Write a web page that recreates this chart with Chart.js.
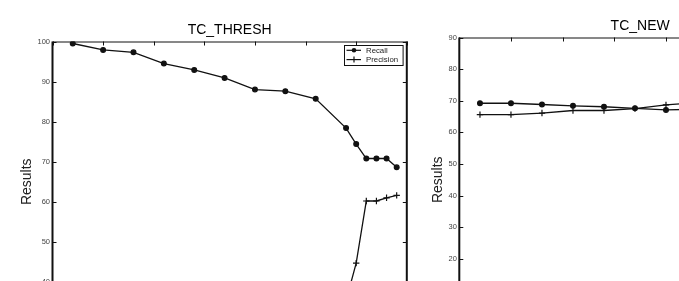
<!DOCTYPE html>
<html>
<head>
<meta charset="utf-8">
<script src="https://cdn.jsdelivr.net/npm/chart.js@4.4.1/dist/chart.umd.min.js"></script>
<style>
  html, body { margin:0; padding:0; background:#fff; width:679px; height:281px; overflow:hidden; }
  #c1 { position:absolute; left:0; top:0; }
  #c2 { position:absolute; left:414px; top:0; }
</style>
</head>
<body>
<canvas id="c1" width="412" height="360"></canvas>
<canvas id="c2" width="416" height="360"></canvas>
<script>
// ---- data ----
const threshX = [0.02, 0.05, 0.08, 0.11, 0.14, 0.17, 0.20, 0.23, 0.26, 0.29, 0.30, 0.31, 0.32, 0.33, 0.34];
const threshRecall = [99.5, 97.9, 97.3, 94.5, 92.9, 90.9, 88.0, 87.6, 85.7, 78.4, 74.4, 70.8, 70.8, 70.8, 68.6];
const threshPrecision = [30.6, 30.9, 31.2, 31.5, 31.9, 32.3, 32.8, 33.4, 34.1, 35.3, 44.7, 60.2, 60.2, 61.0, 61.6];

const newX = [0.02, 0.05, 0.08, 0.11, 0.14, 0.17, 0.20, 0.23];
const newRecall = [69.2, 69.2, 68.8, 68.4, 68.1, 67.6, 67.1, 67.3];
const newPrecision = [65.6, 65.6, 66.1, 66.9, 66.9, 67.5, 68.7, 69.4];

const xTickValues = [0, 0.05, 0.10, 0.15, 0.20, 0.25, 0.30, 0.35];
const yTicksThresh = [30, 40, 50, 60, 70, 80, 90, 100];
const yTicksNew = [0, 10, 20, 30, 40, 50, 60, 70, 80, 90];

const titles = ['TC_THRESH', 'TC_NEW'];
const seriesNames = ['Recall', 'Precision'];
const yAxisName = 'Results';

// ---- drawing helpers ----
const INK = '#111';
const framePlugin = {
  id: 'frame',
  afterDraw(chart, args, opts) {
    const { ctx, chartArea: a, scales: { x, y } } = chart;
    ctx.save();
    ctx.strokeStyle = INK;
    ctx.lineWidth = 1;
    ctx.beginPath();
    opts.xTicks.forEach(v => {
      const px = Math.round(x.getPixelForValue(v)) + 0.5;
      ctx.moveTo(px, a.top); ctx.lineTo(px, a.top + 4);
      ctx.moveTo(px, a.bottom); ctx.lineTo(px, a.bottom - 4);
    });
    opts.yTicks.forEach(v => {
      const py = Math.round(y.getPixelForValue(v)) + 0.5;
      ctx.moveTo(a.left, py); ctx.lineTo(a.left + 4, py);
      ctx.moveTo(a.right, py); ctx.lineTo(a.right - 4, py);
    });
    ctx.stroke();
    // frame
    ctx.beginPath();
    ctx.lineWidth = 1;
    ctx.moveTo(a.left, a.top + 0.5); ctx.lineTo(a.right, a.top + 0.5);
    ctx.moveTo(a.left, a.bottom - 0.5); ctx.lineTo(a.right, a.bottom - 0.5);
    ctx.stroke();
    ctx.beginPath();
    ctx.lineWidth = 2;
    ctx.moveTo(a.left, a.top); ctx.lineTo(a.left, a.bottom);
    ctx.moveTo(a.right, a.top); ctx.lineTo(a.right, a.bottom);
    ctx.stroke();

    // title
    ctx.fillStyle = '#000';
    ctx.font = '14px "Liberation Sans", Arial, sans-serif';
    ctx.textAlign = 'center';
    ctx.textBaseline = 'alphabetic';
    ctx.fillText(opts.title, (a.left + a.right) / 2, a.top - 8);

    // y axis name
    ctx.save();
    ctx.translate(a.left - opts.labelOffset, (a.top + a.bottom) / 2);
    ctx.rotate(-Math.PI / 2);
    ctx.fillStyle = '#222';
    ctx.fillText(yAxisName, 0, 0);
    ctx.restore();

    // legend
    if (opts.legend) {
      const bw = 58.6, bh = 20;
      const bx = a.right - 4.2 - bw, by = a.top + 3.8;
      ctx.fillStyle = '#fff';
      ctx.fillRect(bx, by, bw, bh);
      ctx.lineWidth = 1;
      ctx.strokeStyle = INK;
      ctx.strokeRect(Math.round(bx) + 0.5, Math.round(by) + 0.5, bw, bh);
      chart.data.datasets.forEach((ds, i) => {
        const ly = by + 5 + i * 9.3;
        ctx.beginPath();
        ctx.lineWidth = 1.2;
        ctx.moveTo(bx + 2.5, ly); ctx.lineTo(bx + 17, ly);
        ctx.stroke();
        const mx = bx + 10;
        if (ds.pointStyle === 'circle') {
          ctx.beginPath(); ctx.fillStyle = INK; ctx.arc(mx, ly, 2.3, 0, Math.PI * 2); ctx.fill();
        } else {
          ctx.beginPath(); ctx.moveTo(mx, ly - 3); ctx.lineTo(mx, ly + 3); ctx.stroke();
        }
        ctx.fillStyle = '#222';
        ctx.font = '7.8px "Liberation Sans", Arial, sans-serif';
        ctx.textAlign = 'left';
        ctx.textBaseline = 'middle';
        ctx.fillText(ds.label, bx + 22, ly + 0.5);
      });
    }
    ctx.restore();
  }
};

function makeChart(id, xs, recall, precision, yTicks, yMin, yMax, pad, yWidth, title, labelOffset, legend) {
  const line = (label, vals, style, r) => ({
    label,
    data: xs.map((v, i) => ({ x: v, y: vals[i] })),
    borderColor: INK,
    backgroundColor: INK,
    borderWidth: 1.3,
    pointStyle: style,
    pointRadius: r,
    pointBorderWidth: 1.2,
    pointBorderColor: INK,
    pointBackgroundColor: INK,
    tension: 0,
    fill: false
  });
  return new Chart(document.getElementById(id), {
    type: 'line',
    data: {
      datasets: [
        line(seriesNames[0], recall, 'circle', 2.4),
        line(seriesNames[1], precision, 'cross', 3.2)
      ]
    },
    plugins: [framePlugin],
    options: {
      responsive: false,
      animation: false,
      devicePixelRatio: 1,
      layout: { padding: pad },
      plugins: {
        legend: { display: false },
        tooltip: { enabled: false },
        title: { display: false },
        frame: { xTicks: xTickValues, yTicks, title, labelOffset, legend }
      },
      scales: {
        x: {
          type: 'linear', min: 0, max: 0.35, display: false
        },
        y: {
          type: 'linear', min: yMin, max: yMax,
          afterBuildTicks: s => { s.ticks = yTicks.map(v => ({ value: v })); },
          afterFit: s => { s.width = yWidth; },
          grid: { display: false, drawTicks: false },
          border: { display: false },
          ticks: {
            color: '#444', padding: 2.5,
            font: { family: '"Liberation Sans", Arial, sans-serif', size: 7.5 }
          }
        }
      }
    }
  });
}

makeChart('c1', threshX, threshRecall, threshPrecision, yTicksThresh, 30, 100,
  { top: 41.5, left: 0, right: 3.5, bottom: 38 }, 52.5, titles[0], 21.5, true);
makeChart('c2', newX, newRecall, newPrecision, yTicksNew, 0, 90,
  { top: 37.5, left: 0, right: 9, bottom: 38 }, 45.3, titles[1], 17.3, false);
</script>
</body>
</html>
